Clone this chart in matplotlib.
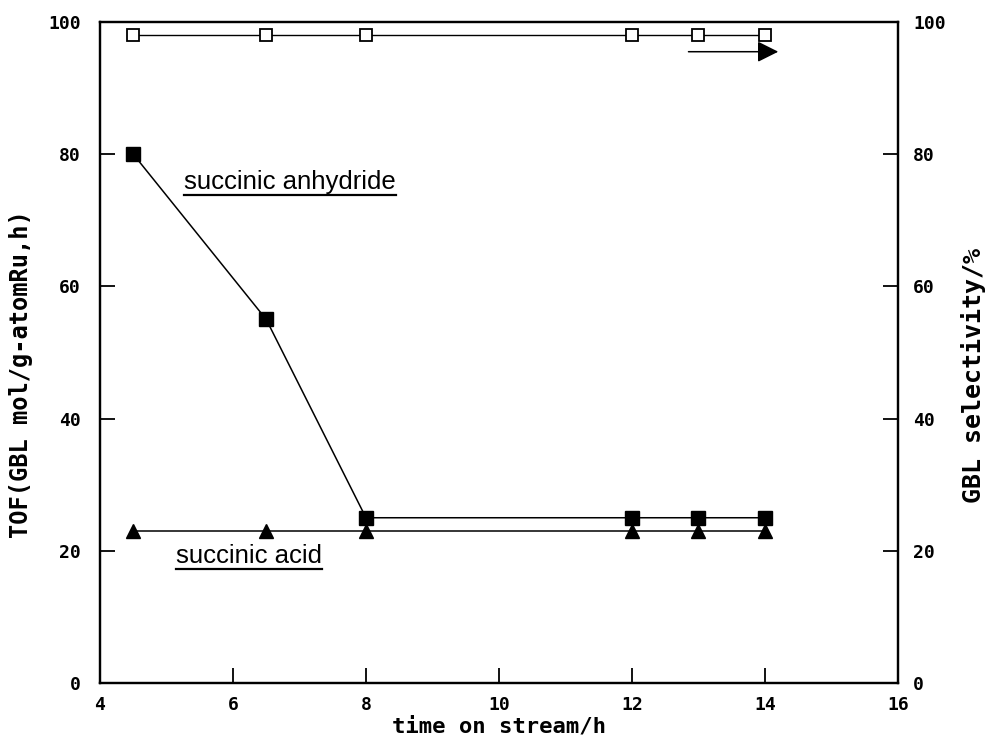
import matplotlib
matplotlib.use('Agg')
import matplotlib.pyplot as plt
from matplotlib.lines import Line2D

# data
time_h = [4.5, 6.5, 8, 12, 13, 14]
tof_anhydride = [80, 55, 25, 25, 25, 25]
tof_acid = [23, 23, 23, 23, 23, 23]
gbl_selectivity = [98, 98, 98, 98, 98, 98]

x_ticks = [4, 6, 8, 10, 12, 14, 16]
y_ticks = [0, 20, 40, 60, 80, 100]

# arrow pointing to right axis (selectivity)
arrow_start = (12.85, 95.5)
arrow_end = (14.2, 95.5)

label_anhydride = ('succinic anhydride', 5.27, 74.8)
label_acid = ('succinic acid', 5.15, 18.2)

mono = 'DejaVu Sans Mono'
sans = 'Liberation Sans'

fig = plt.figure(figsize=(9.91, 7.42), dpi=100)
ax = fig.add_axes([0.1009, 0.0795, 0.8052, 0.8909])
ax2 = ax.twinx()

# TOF series on left axis
ax.plot(time_h, tof_anhydride, 'k-', marker='s', markersize=10, lw=1.1,
        markerfacecolor='black', zorder=3)
ax.plot(time_h, tof_acid, 'k-', marker='^', markersize=10, lw=1.1,
        markerfacecolor='black', zorder=3)

# selectivity on right axis
ax2.plot(time_h, gbl_selectivity, 'k-', marker='s', markersize=9, lw=1.0,
         markerfacecolor='white', markeredgewidth=1.3, zorder=3)
ax2.annotate('', xy=arrow_end, xytext=arrow_start,
             arrowprops=dict(arrowstyle='-|>', color='black', lw=1.1,
                             mutation_scale=32, shrinkA=0, shrinkB=0))

for a in (ax, ax2):
    a.set_xlim(4, 16)
    a.set_ylim(0, 100)
    a.set_yticks(y_ticks)
    for s in a.spines.values():
        s.set_linewidth(1.6)

ax.set_xticks(x_ticks)
ax.tick_params(axis='x', direction='in', length=11, width=1.3, pad=9)
ax.tick_params(axis='y', direction='in', length=11, width=1.3, pad=14)
ax2.tick_params(axis='y', direction='in', length=11, width=1.3, pad=11)

for lbl in ax.get_xticklabels() + ax.get_yticklabels() + ax2.get_yticklabels():
    lbl.set_fontfamily(mono)
    lbl.set_fontweight('bold')
    lbl.set_fontsize(13)

ax.set_xlabel('time on stream/h', fontfamily=mono, fontweight='bold',
              fontsize=16, labelpad=2)
ax.set_ylabel('TOF(GBL mol/g-atomRu,h)', fontfamily=mono, fontweight='bold',
              fontsize=17)
ax2.set_ylabel('GBL selectivity/%', fontfamily=mono, fontweight='bold',
               fontsize=18)
ax.yaxis.set_label_coords(-0.084, 0.468)
ax2.yaxis.set_label_coords(1.079, 0.465)

texts = []
for txt, tx, ty in (label_anhydride, label_acid):
    t = ax.text(tx, ty, txt, fontfamily=sans, fontsize=18.5, ha='left',
                va='baseline')
    texts.append(t)

# underline the annotations
fig.canvas.draw()
renderer = fig.canvas.get_renderer()
inv = fig.transFigure.inverted()
for t in texts:
    bb = t.get_window_extent(renderer)
    (x0, y0), (x1, _) = inv.transform([(bb.x0, bb.y0 - 1), (bb.x1, bb.y0)])
    fig.add_artist(Line2D([x0, x1], [y0, y0], transform=fig.transFigure,
                          color='black', lw=1.6))

fig.savefig('out.png', dpi=100)
